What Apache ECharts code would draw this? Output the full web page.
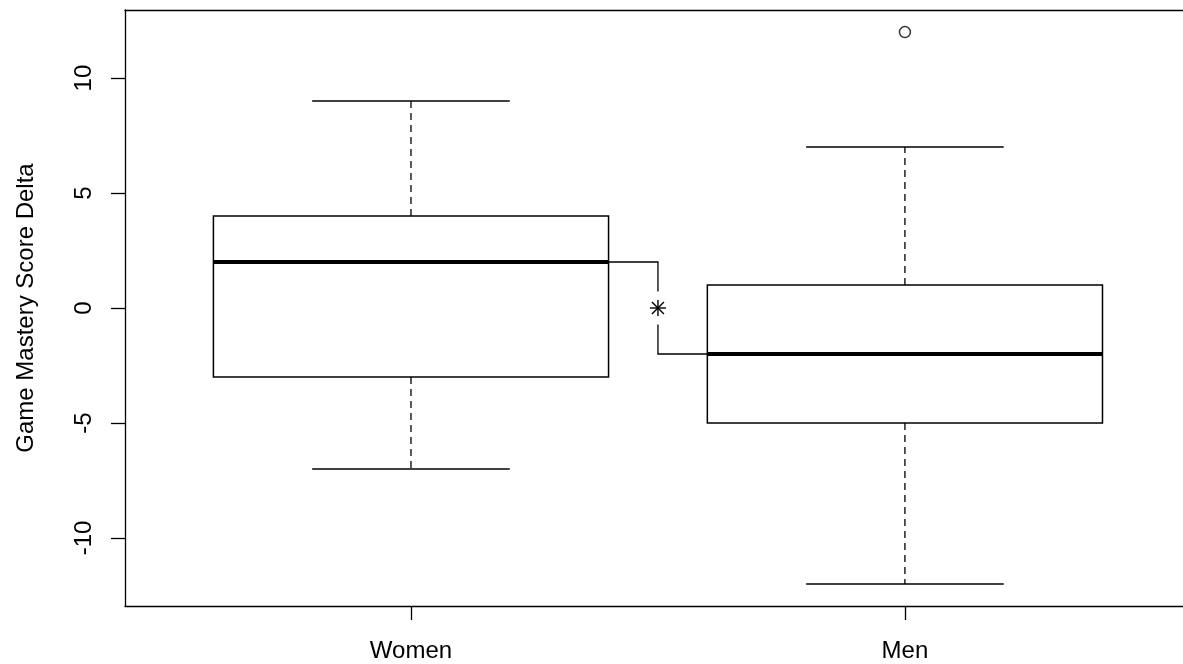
<!DOCTYPE html>
<html>
<head>
<meta charset="utf-8">
<script src="https://cdn.jsdelivr.net/npm/echarts@6/dist/echarts.min.js"></script>
<style>
html,body{margin:0;padding:0;background:#fff;}
#chart{width:1183px;height:664px;}
</style>
</head>
<body>
<div id="chart"></div>
<script>
// ---- data ----
var categories = ['Women', 'Men'];
var whiskerLow = [-7, -12];
var q1 = [-3, -5];
var medians = [2, -2];
var q3 = [4, 1];
var whiskerHigh = [9, 7];
var outliers = [[], [12]];
var yTicks = [-10, -5, 0, 5, 10];
var yTitle = 'Game Mastery Score Delta';
var sigLabel = '*';

// ---- build ----
var boxHalf = 0.4, capHalf = 0.2;
var boxData = categories.map(function (c, i) {
  return [i + 1, whiskerLow[i], q1[i], medians[i], q3[i], whiskerHigh[i]];
});
var outlierData = [];
outliers.forEach(function (arr, i) { arr.forEach(function (v) { outlierData.push([i + 1, v]); }); });

var LINE = '#000';

function renderBox(params, api) {
  var x = api.value(0);
  var lo = api.coord([x, api.value(1)]);
  var b1 = api.coord([x - boxHalf, api.value(2)]);
  var b2 = api.coord([x + boxHalf, api.value(4)]);
  var m1 = api.coord([x - boxHalf, api.value(3)]);
  var m2 = api.coord([x + boxHalf, api.value(3)]);
  var hi = api.coord([x, api.value(5)]);
  var cl = api.coord([x - capHalf, 0])[0];
  var cr = api.coord([x + capHalf, 0])[0];
  var cx = lo[0];
  var dash = {stroke: LINE, lineWidth: 1.3, lineDash: [7, 5], fill: null};
  var solid = {stroke: LINE, lineWidth: 1.5, fill: null};
  return {
    type: 'group',
    children: [
      {type: 'line', shape: {x1: cx, y1: b2[1], x2: cx, y2: hi[1]}, style: dash},
      {type: 'line', shape: {x1: cx, y1: b1[1], x2: cx, y2: lo[1]}, style: dash},
      {type: 'line', shape: {x1: cl, y1: hi[1], x2: cr, y2: hi[1]}, style: solid},
      {type: 'line', shape: {x1: cl, y1: lo[1], x2: cr, y2: lo[1]}, style: solid},
      {type: 'rect', shape: {x: b1[0], y: b2[1], width: b2[0] - b1[0], height: b1[1] - b2[1]}, style: {stroke: LINE, lineWidth: 1.5, fill: '#fff'}},
      {type: 'line', shape: {x1: m1[0], y1: m1[1], x2: m2[0], y2: m2[1]}, style: {stroke: LINE, lineWidth: 4}, z2: 10}
    ]
  };
}

// significance bracket between medians of the two groups
var bracketData = [[1 + boxHalf, medians[0], 2 - boxHalf, medians[1]]];
function renderBracket(params, api) {
  var xl = api.value(0), yl = api.value(1), xr = api.value(2), yr = api.value(3);
  var xm = (xl + xr) / 2, ym = (yl + yr) / 2;
  var pL = api.coord([xl, yl]);
  var pM1 = api.coord([xm, yl]);
  var pM2 = api.coord([xm, yr]);
  var pR = api.coord([xr, yr]);
  var c = api.coord([xm, ym]);
  var gap = 16.5;
  var st = {stroke: LINE, lineWidth: 1.3, fill: null};
  var ast = {stroke: LINE, lineWidth: 1.4, fill: null};
  var r = 8, d = 6;
  return {
    type: 'group',
    children: [
      {type: 'polyline', shape: {points: [pL, pM1, [pM1[0], c[1] - gap]]}, style: st},
      {type: 'polyline', shape: {points: [[pM2[0], c[1] + gap], pM2, pR]}, style: st},
      {type: 'line', shape: {x1: c[0] - r, y1: c[1], x2: c[0] + r, y2: c[1]}, style: ast},
      {type: 'line', shape: {x1: c[0], y1: c[1] - r, x2: c[0], y2: c[1] + r}, style: ast},
      {type: 'line', shape: {x1: c[0] - d, y1: c[1] - d, x2: c[0] + d, y2: c[1] + d}, style: ast},
      {type: 'line', shape: {x1: c[0] - d, y1: c[1] + d, x2: c[0] + d, y2: c[1] - d}, style: ast}
    ]
  };
}

var FONT = 'Liberation Sans, Arial, sans-serif';
var X_MIN = 0.421, X_MAX = 2.563;
var chart = echarts.init(document.getElementById('chart'), null, {renderer: 'canvas'});
chart.setOption({
  animation: false,
  backgroundColor: '#fff',
  grid: {left: 125, right: 0, top: 10, bottom: 58, show: false},
  xAxis: [{
    type: 'value', min: X_MIN, max: X_MAX, position: 'bottom',
    splitLine: {show: false},
    axisLine: {show: true, onZero: false, lineStyle: {color: LINE, width: 1.3}},
    axisTick: {show: true, length: 14, lineStyle: {color: LINE, width: 1.3}, customValues: [1, 2]},
    axisLabel: {
      customValues: [1, 2], margin: 33, color: '#000', fontSize: 24, fontFamily: FONT,
      formatter: function (v) { return categories[Math.round(v) - 1] || ''; }
    }
  }, {
    type: 'value', min: X_MIN, max: X_MAX, position: 'top',
    splitLine: {show: false},
    axisLine: {show: true, onZero: false, lineStyle: {color: LINE, width: 1.3}},
    axisTick: {show: false}, axisLabel: {show: false}
  }],
  yAxis: {
    type: 'value', min: -12.96, max: 12.96,
    name: yTitle, nameLocation: 'middle', nameRotate: 90, nameGap: 87,
    nameTextStyle: {color: '#000', fontSize: 24, fontFamily: FONT},
    splitLine: {show: false},
    axisLine: {show: true, onZero: false, lineStyle: {color: LINE, width: 1.3}},
    axisTick: {show: true, length: 14, lineStyle: {color: LINE, width: 1.3}, customValues: yTicks},
    axisLabel: {customValues: yTicks, rotate: 90, margin: 29, color: '#000', fontSize: 24, fontFamily: FONT}
  },
  series: [
    {type: 'custom', renderItem: renderBox, data: boxData, encode: {x: 0, y: [1, 2, 3, 4, 5]}, clip: false, silent: true},
    {type: 'custom', renderItem: renderBracket, data: bracketData, encode: {x: [0, 2], y: [1, 3]}, clip: false, silent: true},
    {type: 'scatter', data: outlierData, symbol: 'circle', symbolSize: 11,
      itemStyle: {color: '#fff', borderColor: LINE, borderWidth: 1.5}, silent: true}
  ]
});
</script>
</body>
</html>
